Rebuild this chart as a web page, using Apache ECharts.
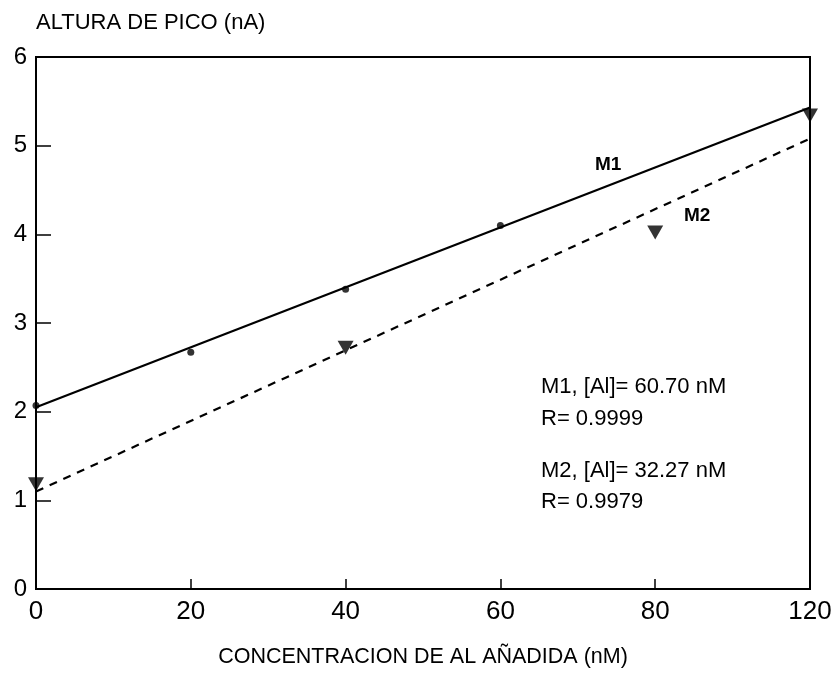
<!DOCTYPE html>
<html>
<head>
<meta charset="utf-8">
<script src="https://cdn.jsdelivr.net/npm/echarts@6/dist/echarts.min.js"></script>
<style>
  html, body { margin: 0; padding: 0; background: #fff; }
  #chart { width: 836px; height: 673px; }
</style>
</head>
<body>
<div id="chart"></div>
<script>
// tick labels as printed on the figure (last tick is labelled 120)
const xTickLabels = ['0', '20', '40', '60', '80', '120'];

// M1 points (small dots) and fit line
const m1X = [0, 20, 40, 60];
const m1Y = [2.07, 2.67, 3.38, 4.10];
const m1FitX = [0, 100];
const m1FitY = [2.05, 5.43];

// M2 points (triangles) and fit line
const m2X = [0, 40, 80, 100];
const m2Y = [1.18, 2.72, 4.02, 5.34];
const m2FitX = [0, 100];
const m2FitY = [1.10, 5.08];

const zip = (xs, ys) => xs.map((x, i) => [x, ys[i]]);

const font = "'Liberation Sans', Arial, sans-serif";
const ink = '#000';

const chart = echarts.init(document.getElementById('chart'));

chart.setOption({
    animation: false,
    backgroundColor: '#fff',
    grid: {
        left: 36, right: 26, top: 57, bottom: 83,
        show: true, borderColor: ink, borderWidth: 2
    },
    xAxis: {
        type: 'value', min: 0, max: 100, interval: 20,
        name: 'CONCENTRACION DE AL AÑADIDA (nM)',
        nameLocation: 'middle', nameGap: 57,
        nameTextStyle: { color: ink, fontSize: 21.5, fontFamily: font },
        axisLine: { lineStyle: { color: ink, width: 2 } },
        axisTick: { inside: true, length: 10, lineStyle: { color: ink, width: 1.5 } },
        axisLabel: {
            color: ink, fontSize: 26, fontFamily: font, margin: 10,
            formatter: v => xTickLabels[Math.round(v / 20)]
        },
        splitLine: { show: false }
    },
    yAxis: {
        type: 'value', min: 0, max: 6, interval: 1,
        name: 'ALTURA DE PICO (nA)',
        nameLocation: 'end', nameGap: 23,
        nameTextStyle: { color: ink, fontSize: 22, fontFamily: font, align: 'left' },
        axisLine: { lineStyle: { color: ink, width: 2 } },
        axisTick: { inside: true, length: 15, lineStyle: { color: ink, width: 1.5 } },
        axisLabel: { color: ink, fontSize: 24, fontFamily: font, margin: 9 },
        splitLine: { show: false }
    },
    series: [
        {
            name: 'M1 ajuste', type: 'line', data: zip(m1FitX, m1FitY),
            symbol: 'none', lineStyle: { color: ink, width: 2.2 }
        },
        {
            name: 'M2 ajuste', type: 'line', data: zip(m2FitX, m2FitY),
            symbol: 'none', lineStyle: { color: ink, width: 2.2, type: [8, 7] }
        },
        {
            name: 'M1', type: 'scatter', data: zip(m1X, m1Y), clip: false,
            symbol: 'circle', symbolSize: 7, itemStyle: { color: ink }
        },
        {
            name: 'M2', type: 'scatter', data: zip(m2X, m2Y), clip: false,
            symbol: 'triangle', symbolRotate: 180, symbolSize: [16, 14],
            itemStyle: { color: ink }
        }
    ],
    graphic: [
        { type: 'text', left: 595, top: 155, style: { text: 'M1', font: 'bold 19px ' + font, fill: ink } },
        { type: 'text', left: 684, top: 206, style: { text: 'M2', font: 'bold 19px ' + font, fill: ink } },
        { type: 'text', left: 541, top: 376, style: { text: 'M1, [Al]= 60.70 nM', font: '22px ' + font, fill: ink } },
        { type: 'text', left: 541, top: 408, style: { text: 'R= 0.9999', font: '22px ' + font, fill: ink } },
        { type: 'text', left: 541, top: 460, style: { text: 'M2, [Al]= 32.27 nM', font: '22px ' + font, fill: ink } },
        { type: 'text', left: 541, top: 491, style: { text: 'R= 0.9979', font: '22px ' + font, fill: ink } }
    ]
});
</script>
</body>
</html>
